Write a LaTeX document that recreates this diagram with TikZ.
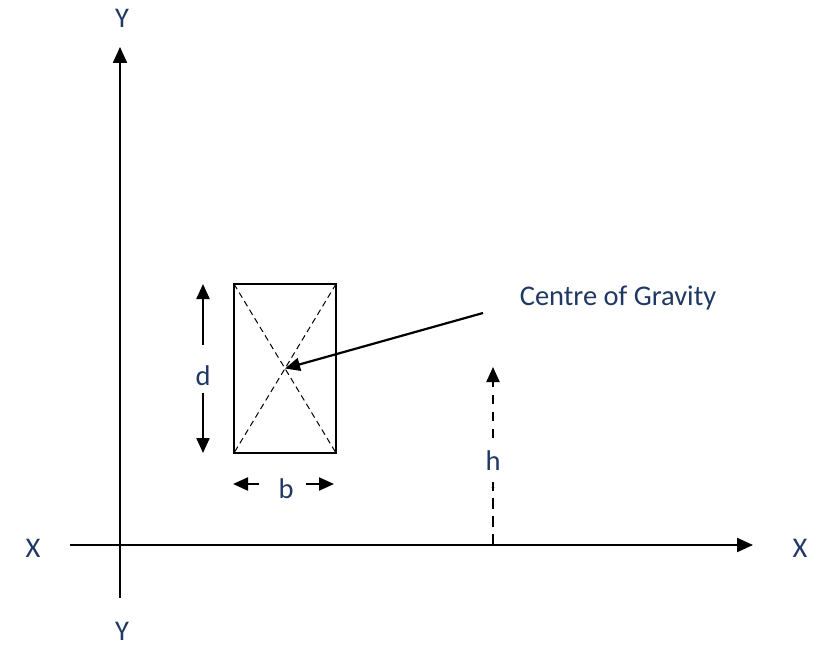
\documentclass[tikz,border=0pt]{standalone}
\usepackage{fontspec}
\setmainfont{Carlito}
\usetikzlibrary{arrows.meta}
\definecolor{lbl}{HTML}{1F3864}
\tikzset{
  lab/.style={text=lbl, font=\fontsize{28.5}{32}\selectfont, inner sep=0pt},
  axis/.style={line width=2.2pt, -{Triangle[length=16pt,width=14pt]}},
  dimarrow/.style={line width=2.2pt, -{Triangle[length=15pt,width=13pt]}},
  diag/.style={line width=1pt, dash pattern=on 6pt off 4pt},
}
\begin{document}
\begin{tikzpicture}[x=1pt,y=-1pt]
\useasboundingbox (0,0) rectangle (826,647);
% axes
\coordinate (ybot) at (120,598);
\coordinate (ytop) at (120,47);
\coordinate (xl) at (70,545);
\coordinate (xr) at (753,545);
\draw[axis] (ybot) -- (ytop);
\draw[axis] (xl) -- (xr);
\node[lab] (Yt) at (122,18) {Y};
\node[lab] (Yb) at (122,631) {Y};
\node[lab] (Xl) at (33,548) {X};
\node[lab] (Xr) at (800,548) {X};
% rectangle
\coordinate (tl) at (234,284);
\coordinate (tr) at (336,284);
\coordinate (bl) at (234,453);
\coordinate (br) at (336,453);
\draw[line width=1.6pt] (tl) rectangle (br);
\draw[diag] (tl) -- (br);
\draw[diag] (tr) -- (bl);
\coordinate (cg) at (285,368.5);
% d
\node[lab] (d) at (203,376) {d};
\coordinate (du) at (203,284);
\coordinate (dd) at (203,453);
\draw[dimarrow] (203,345) -- (du);
\draw[dimarrow] (203,393) -- (dd);
% b
\node[lab] (b) at (286,489) {b};
\coordinate (bla) at (233,484);
\coordinate (bra) at (334,484);
\draw[dimarrow] (259,484) -- (bla);
\draw[dimarrow] (306,484) -- (bra);
% centre of gravity
\node[lab] (cgl) at (618,298) {Centre of Gravity};
\coordinate (cgs) at (483,313);
\draw[dimarrow] (cgs) -- (cg);
% h
\node[lab] (h) at (493,461) {h};
\coordinate (hb) at (493,545);
\coordinate (ht) at (493,367);
\draw[line width=2.2pt, dash pattern=on 11pt off 7pt] (hb) -- (493,482);
\fill (493,487.5) circle (1.3pt);
\draw[line width=2.2pt, dash pattern=on 9pt off 8pt, -{Triangle[length=15pt,width=13pt]}] (493,438) -- (ht);
\end{tikzpicture}
\end{document}
